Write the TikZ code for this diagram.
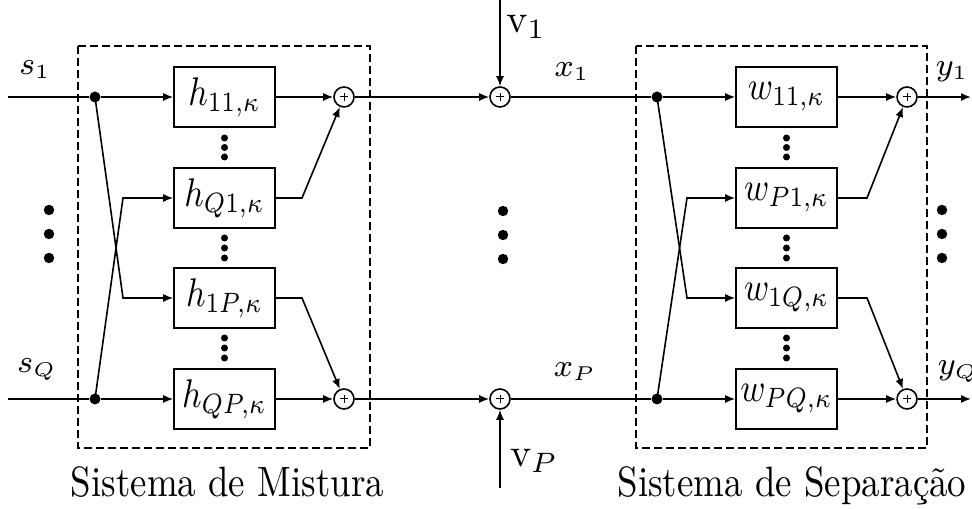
\documentclass[tikz,border=0pt]{standalone}
\usepackage[no-math]{fontspec}
\usepackage{graphicx}
\usetikzlibrary{arrows.meta}
\newcommand\boxlab[1]{\scalebox{0.85}[1]{$#1$}}
\newcommand\outlab[1]{{\fontsize{7.8}{9}\selectfont$#1$}}
\newcommand\noiselab[1]{{\fontsize{9.8}{11}\selectfont$#1$}}
\newcommand\caplab[1]{{\rmfamily\fontsize{10.6}{12}\selectfont\scalebox{0.87}[1]{#1}}}
\begin{document}
\begin{tikzpicture}[x=0.25pt,y=-0.25pt,
  line width=0.4pt,
  arr/.style={-{Latex[length=2.5pt,width=2pt]}},
  blk/.style={draw, minimum width=25.25pt, minimum height=15pt, inner sep=0pt, fill=white},
  sumnode/.style={draw, circle, minimum size=5pt, inner sep=0pt,
    path picture={
      \draw[line width=0.25pt] ([xshift=-1.1pt]path picture bounding box.center) -- ([xshift=1.1pt]path picture bounding box.center);
      \draw[line width=0.25pt] ([yshift=-1.1pt]path picture bounding box.center) -- ([yshift=1.1pt]path picture bounding box.center);}},
  jdot/.style={circle, fill, minimum size=2.75pt, inner sep=0pt},
  sdot/.style={circle, fill, minimum size=1.75pt, inner sep=0pt},
  bigdot/.style={circle, fill, minimum size=2.6pt, inner sep=0pt},
  dashbox/.style={draw, dash pattern=on 2pt off 1pt, line width=0.35pt},
  lab/.style={inner sep=0pt}
]
\useasboundingbox (0,0) rectangle (972,509);

% ---------------- dashed frames
\draw[dashbox] (78,46) rectangle (370,448);
\draw[dashbox] (636,46) rectangle (927,448);

% ---------------- left (mixing) system
\coordinate (inL1) at (8,97);
\coordinate (inLQ) at (8,399);
\node[jdot] (dL1) at (95,97) {};
\node[jdot] (dLQ) at (95,399) {};
\coordinate (tL1) at (123,198);
\coordinate (tL2) at (123,298);
\node[blk] (h11) at (224.5,97)  {\boxlab{h_{11,\kappa}}};
\node[blk] (hQ1) at (224.5,198) {\boxlab{h_{Q1,\kappa}}};
\node[blk] (h1P) at (224.5,298) {\boxlab{h_{1P,\kappa}}};
\node[blk] (hQP) at (224.5,399) {\boxlab{h_{QP,\kappa}}};
\coordinate (oL1) at (302,198);
\coordinate (oL2) at (302,298);
\node[sumnode] (sL1) at (344,97) {};
\node[sumnode] (sLQ) at (344,399) {};

\foreach \yy [count=\i] in {138,147.5,157,238,248,258,338,348,358}
  \node[sdot] (hd\i) at (224.5,\yy) {};

\node[bigdot] (ld1) at (49,210) {};
\node[bigdot] (ld2) at (49,234) {};
\node[bigdot] (ld3) at (49,258) {};

\node[lab] (s1) at (35,70) {\outlab{s_1}};
\node[lab] (sQ) at (37,370) {\outlab{s_Q}};

\draw (inL1) -- (dL1);
\draw (inLQ) -- (dLQ);
\draw[arr] (dL1) -- (h11);
\draw[arr] (dLQ) -- (hQP);
\draw[arr] (dL1.center) -- (tL2) -- (h1P.west);
\draw[arr] (dLQ.center) -- (tL1) -- (hQ1.west);
\draw[arr] (h11) -- (sL1);
\draw[arr] (hQP) -- (sLQ);
\draw[arr] (hQ1.east) -- (oL1) -- (sL1);
\draw[arr] (h1P.east) -- (oL2) -- (sLQ);

% ---------------- middle (noise)
\node[sumnode] (sM1) at (500,97) {};
\node[sumnode] (sMQ) at (500,399) {};
\coordinate (v1s) at (500,0);
\coordinate (vPs) at (500,488);
\draw[arr] (sL1) -- (sM1);
\draw[arr] (sLQ) -- (sMQ);
\draw[arr] (v1s) -- (sM1);
\draw[arr] (vPs) -- (sMQ);
\node[lab] (v1) at (526,27) {\noiselab{\mathrm{v}_1}};
\node[lab] (vP) at (534,461) {\noiselab{\mathrm{v}_P}};
\node[lab] (x1) at (572,72) {\outlab{x_1}};
\node[lab] (xP) at (575,372) {\outlab{x_P}};
\node[bigdot] (md1) at (503,211) {};
\node[bigdot] (md2) at (503,235) {};
\node[bigdot] (md3) at (503,259) {};

% ---------------- right (separation) system
\node[jdot] (dR1) at (657,97) {};
\node[jdot] (dRQ) at (657,399) {};
\coordinate (tR1) at (687,198);
\coordinate (tR2) at (687,298);
\node[blk] (w11) at (786.5,97)  {\boxlab{w_{11,\kappa}}};
\node[blk] (wP1) at (786.5,198) {\boxlab{w_{P1,\kappa}}};
\node[blk] (w1Q) at (786.5,298) {\boxlab{w_{1Q,\kappa}}};
\node[blk] (wPQ) at (786.5,399) {\boxlab{w_{PQ,\kappa}}};
\coordinate (oR1) at (867,198);
\coordinate (oR2) at (867,298);
\node[sumnode] (sR1) at (907,97) {};
\node[sumnode] (sRQ) at (907,399) {};
\coordinate (out1) at (971,97);
\coordinate (outQ) at (971,399);

\foreach \yy [count=\i] in {138,147.5,157,238,248,258,338,348,358}
  \node[sdot] (wd\i) at (786.5,\yy) {};

\node[bigdot] (rd1) at (942,210) {};
\node[bigdot] (rd2) at (942,234) {};
\node[bigdot] (rd3) at (942,258) {};

\node[lab] (y1) at (952,72) {\outlab{y_1}};
\node[lab] (yQ) at (958,372) {\outlab{y_Q}};

\draw (sM1) -- (dR1);
\draw (sMQ) -- (dRQ);
\draw[arr] (dR1) -- (w11);
\draw[arr] (dRQ) -- (wPQ);
\draw[arr] (dR1.center) -- (tR2) -- (w1Q.west);
\draw[arr] (dRQ.center) -- (tR1) -- (wP1.west);
\draw[arr] (w11) -- (sR1);
\draw[arr] (wPQ) -- (sRQ);
\draw[arr] (wP1.east) -- (oR1) -- (sR1);
\draw[arr] (w1Q.east) -- (oR2) -- (sRQ);
\draw[arr] (sR1) -- (out1);
\draw[arr] (sRQ) -- (outQ);

% ---------------- captions
\node[lab, anchor=base] (capL) at (227.5,497) {\caplab{Sistema de Mistura}};
\node[lab, anchor=base] (capR) at (792,497) {\caplab{Sistema de Separação}};
\end{tikzpicture}
\end{document}
